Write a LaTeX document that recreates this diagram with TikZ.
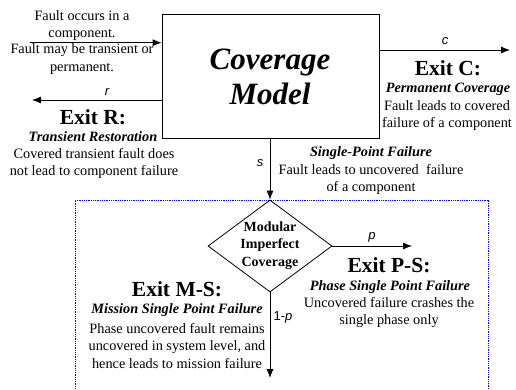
\documentclass[tikz,border=0pt]{standalone}
\usepackage{fontspec}
\setmainfont{Liberation Serif}
\newfontfamily\arialf{Liberation Sans}
\usetikzlibrary{arrows.meta,shapes.geometric}
\begin{document}
\begin{tikzpicture}[x=1pt,y=-1pt,
  arr/.style={-{Latex[length=9pt,width=7pt]}, line width=0.8pt},
  txt/.style={align=center, inner sep=0pt, font=\fontsize{14.3}{17.2}\selectfont},
  sub/.style={align=center, inner sep=0pt, font=\fontsize{14.3}{17.2}\selectfont\bfseries\itshape},
  exit/.style={align=center, inner sep=0pt, font=\fontsize{21.5}{24}\selectfont\bfseries},
  lbl/.style={inner sep=0pt, font=\fontsize{13}{15}\selectfont\arialf\itshape},
  dtext/.style={align=center, inner sep=0pt, font=\fontsize{14}{17.5}\selectfont\bfseries}]
\useasboundingbox (0,0) rectangle (516,389);
% blue dotted region
\draw[blue, line width=0.9pt, dash pattern=on 1pt off 0.8pt] (75,389) -- (75,200) -- (488,200) -- (488,389);
% main box
\node[draw, line width=0.8pt, minimum width=217pt, minimum height=124pt, inner sep=0pt] (cov) at (270.5,76) {};
\node[align=center, inner sep=0pt, font=\fontsize{31}{35}\selectfont\bfseries\itshape] (covt) at (270,77) {Coverage\\Model};
% input
\coordinate (inS) at (30,42.7);
\draw[arr] (inS) -- (inS -| cov.west);
\node[txt] (fault1) at (82,25.5) {Fault occurs in a\\component.};
\node[txt] (fault2) at (82,59) {Fault may be transient or\\permanent.};
% exit R
\coordinate (rE) at (32,100);
\draw[arr] (rE -| cov.west) -- (rE);
\node[lbl] (rl) at (107,92) {r};
\node[exit] (exR) at (93,117) {Exit R:};
\node[sub] (subR) at (93,137) {Transient Restoration};
\node[txt] (dR) at (94,163.5) {Covered transient fault does\\not lead to component failure};
% exit C
\coordinate (cE) at (510,50);
\draw[arr] (cE -| cov.east) -- (cE);
\node[lbl] (cl) at (445,41) {c};
\node[exit] (exC) at (448,68) {Exit C:};
\node[sub] (subC) at (448,89) {Permanent Coverage};
\node[txt] (dC) at (447,115.5) {Fault leads to covered\\failure of a component};
% diamond
\node[draw, diamond, line width=0.8pt, minimum width=124pt, minimum height=92pt, inner sep=0pt] (dia) at (270,246) {};
\node[dtext] (diat) at (270,245.5) {Modular\\Imperfect\\Coverage};
% s arrow
\draw[arr] (cov.south -| dia.north) -- (dia.north);
\node[lbl] (sl) at (260,163) {s};
\node[sub] (subS) at (371,153) {Single-Point Failure};
\node[txt] (dS) at (371,179.5) {Fault leads to uncovered\ \ failure\\of a component};
% p arrow
\coordinate (pE) at (412,246);
\draw[arr] (dia.east) -- (pE);
\node[lbl] (pl) at (372,237) {p};
\node[exit] (exPS) at (389,265) {Exit P-S:};
\node[sub] (subPS) at (390,287) {Phase Single Point Failure};
\node[txt] (dPS) at (389,312.5) {Uncovered failure crashes the\\single phase only};
% 1-p arrow
\coordinate (mE) at (270,378);
\draw[arr] (dia.south) -- (mE);
\node[inner sep=0pt, font=\fontsize{13}{15}\selectfont\arialf] (ml) at (283,317) {1-\textit{p}};
\node[exit] (exMS) at (177,289) {Exit M-S:};
\node[sub] (subMS) at (177,310) {Mission Single Point Failure};
\node[txt] (dMS) at (177,346) {Phase uncovered fault remains\\uncovered in system level, and\\hence leads to mission failure};
\end{tikzpicture}
\end{document}
